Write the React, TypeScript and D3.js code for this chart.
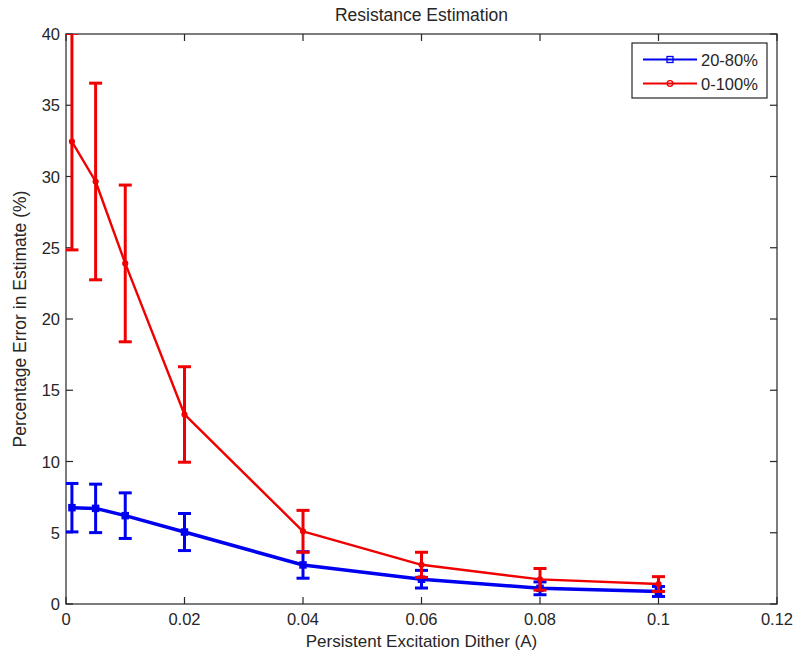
import React from "react";
import * as d3 from "d3";

const dither = [0.001, 0.005, 0.01, 0.02, 0.04, 0.06, 0.08, 0.1];
const series2080 = [6.76, 6.71, 6.2, 5.05, 2.74, 1.74, 1.1, 0.88];
const err2080 = [1.7, 1.7, 1.6, 1.3, 0.93, 0.62, 0.45, 0.35];
const series0100 = [32.45, 29.65, 23.9, 13.3, 5.1, 2.75, 1.73, 1.4];
const err0100 = [7.6, 6.9, 5.5, 3.35, 1.47, 0.88, 0.76, 0.52];
const xTicks = [0, 0.02, 0.04, 0.06, 0.08, 0.1, 0.12];
const yTicks = [0, 5, 10, 15, 20, 25, 30, 35, 40];
const legendLabels = ["20-80%", "0-100%"];

const W = 795;
const H = 654;
const M = { left: 66, right: 18, top: 34, bottom: 50 };
const FONT = "'Liberation Sans', Arial, sans-serif";

export default function App() {
  const x = d3.scaleLinear().domain([0, 0.12]).range([M.left, W - M.right]);
  const y = d3.scaleLinear().domain([0, 40]).range([H - M.bottom, M.top]);
  const line = d3
    .line<[number, number]>()
    .x((d) => x(d[0]))
    .y((d) => y(d[1]));

  const series = [
    { name: legendLabels[0], vals: series2080, errs: err2080, color: "#0000f0", lw: 3.5, marker: "square" },
    { name: legendLabels[1], vals: series0100, errs: err0100, color: "#f00000", lw: 2.4, marker: "circle" },
  ];

  const x0 = M.left, x1 = W - M.right, y0 = H - M.bottom, y1 = M.top;
  const tickLen = 7;
  const cap = 6.5;

  return (
    <svg width={W} height={H} style={{ position: "absolute", left: 0, top: 0, background: "#fff" }} fontFamily={FONT}>
      <defs>
        <clipPath id="plotclip">
          <rect x={x0} y={y1} width={x1 - x0} height={y0 - y1} />
        </clipPath>
      </defs>
      <rect x={0} y={0} width={W} height={H} fill="#fff" />
      <rect x={x0} y={y1} width={x1 - x0} height={y0 - y1} fill="#fff" stroke="#262626" strokeWidth={1.2} />
      {xTicks.map((t) => (
        <g key={"xt" + t}>
          <line x1={x(t)} x2={x(t)} y1={y0} y2={y0 - tickLen} stroke="#262626" strokeWidth={1.2} />
          <line x1={x(t)} x2={x(t)} y1={y1} y2={y1 + tickLen} stroke="#262626" strokeWidth={1.2} />
          <text x={x(t)} y={y0 + 21} textAnchor="middle" fontSize={16.5} fill="#262626">
            {d3.format("~g")(t)}
          </text>
        </g>
      ))}
      {yTicks.map((t) => (
        <g key={"yt" + t}>
          <line x1={x0} x2={x0 + tickLen} y1={y(t)} y2={y(t)} stroke="#262626" strokeWidth={1.2} />
          <line x1={x1} x2={x1 - tickLen} y1={y(t)} y2={y(t)} stroke="#262626" strokeWidth={1.2} />
          <text x={x0 - 6} y={y(t) + 6} textAnchor="end" fontSize={16.5} fill="#262626">
            {t}
          </text>
        </g>
      ))}
      <g clipPath="url(#plotclip)">
        {series.map((s) => (
          <g key={s.name}>
            <path
              d={line(dither.map((d, i) => [d, s.vals[i]]) as [number, number][]) || ""}
              fill="none"
              stroke={s.color}
              strokeWidth={s.lw}
              strokeLinejoin="round"
            />
            {dither.map((d, i) => {
              const cx = x(d);
              const top = y(s.vals[i] + s.errs[i]);
              const bot = y(s.vals[i] - s.errs[i]);
              return (
                <g key={i} stroke={s.color} strokeWidth={3}>
                  <line x1={cx} x2={cx} y1={top} y2={bot} />
                  <line x1={cx - cap} x2={cx + cap} y1={top} y2={top} />
                  <line x1={cx - cap} x2={cx + cap} y1={bot} y2={bot} />
                  {s.marker === "square" ? (
                    <rect x={cx - 3} y={y(s.vals[i]) - 3} width={6} height={6} fill={s.color} strokeWidth={1.5} />
                  ) : (
                    <circle cx={cx} cy={y(s.vals[i])} r={2.5} fill={s.color} strokeWidth={1.2} />
                  )}
                </g>
              );
            })}
          </g>
        ))}
      </g>
      <text x={(x0 + x1) / 2} y={21} textAnchor="middle" fontSize={17.5} fill="#262626">
        Resistance Estimation
      </text>
      <text x={(x0 + x1) / 2} y={647} textAnchor="middle" fontSize={17} fill="#262626">
        Persistent Excitation Dither (A)
      </text>
      <text
        transform={`translate(26, ${(y0 + y1) / 2}) rotate(-90)`}
        textAnchor="middle"
        fontSize={17.5}
        fill="#262626"
      >
        Percentage Error in Estimate (%)
      </text>
      <g>
        <rect x={632} y={43} width={135} height={55} fill="#fff" stroke="#262626" strokeWidth={1.2} />
        {series.map((s, i) => {
          const ly = 59.5 + i * 24;
          return (
            <g key={"lg" + s.name}>
              <line x1={643} x2={697} y1={ly} y2={ly} stroke={s.color} strokeWidth={2} />
              {s.marker === "square" ? (
                <rect x={667} y={ly - 3} width={6} height={6} fill="none" stroke={s.color} strokeWidth={1.3} />
              ) : (
                <circle cx={670} cy={ly} r={2.8} fill="none" stroke={s.color} strokeWidth={1.3} />
              )}
              <text x={701} y={ly + 6} fontSize={16.5} fill="#262626">
                {s.name}
              </text>
            </g>
          );
        })}
      </g>
    </svg>
  );
}
